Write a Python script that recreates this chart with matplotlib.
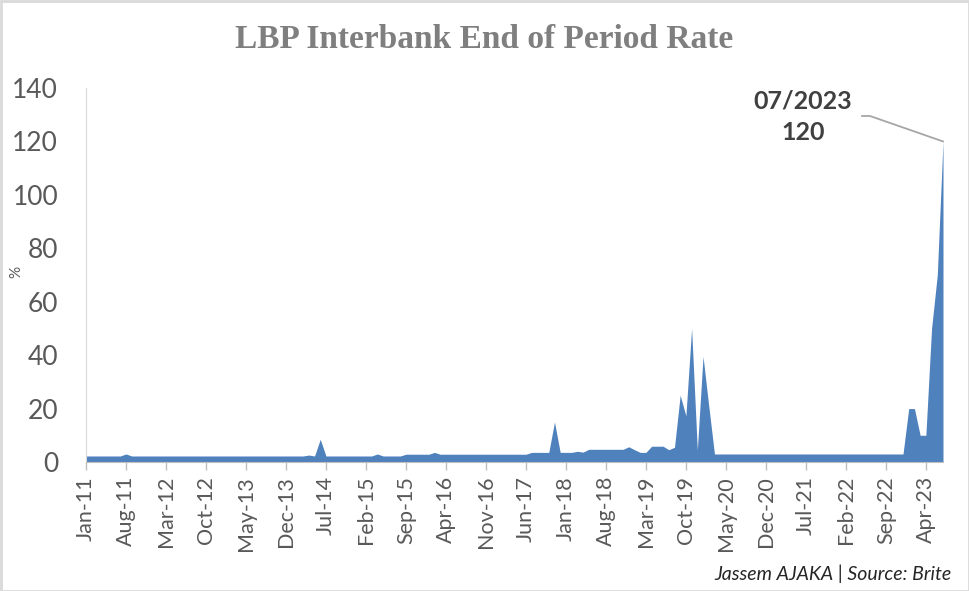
import matplotlib
matplotlib.use("Agg")
import matplotlib.pyplot as plt
import numpy as np
import pandas as pd
from matplotlib.patches import Rectangle

# ---- data (monthly, Jan-2011 .. Jul-2023) ----
start_month = "2011-01-01"
n_months = 151
rates = (
    [2.25] * 7 + [3.0] + [2.25] * 31 + [2.6, 2.25, 8.5] + [2.25] * 9 + [3.0] + [2.25] * 4
    + [2.9] * 5 + [3.6] + [2.9] * 16
    + [3.6] * 4 + [15.0] + [3.6] * 3 + [4.0, 3.7]
    + [4.75] * 7 + [5.7, 4.6, 3.6, 3.6, 5.9, 5.9, 5.9, 4.6, 5.5]
    + [25.0, 17.3, 50.0, 4.5, 39.5, 21.0]
    + [3.0] * 34
    + [20.0, 20.0, 10.0, 10.0, 50.0, 70.0, 120.0]
)
tick_step = 7
y_ticks = [0, 20, 40, 60, 80, 100, 120, 140]
title = "LBP Interbank End of Period Rate"
y_label = "%"
annot_text = "07/2023\n120"
source_text = "Jassem AJAKA | Source: Brite"

dates = pd.date_range(start_month, periods=n_months, freq="MS")
x = np.arange(n_months)
labels = [d.strftime("%b-%y") for d in dates]

W, H = 970, 591
fig = plt.figure(figsize=(W / 100, H / 100), dpi=100)
fig.patch.set_facecolor("white")

ax = fig.add_axes([86 / W, 1 - 462 / H, (943 - 86) / W, (462 - 88) / H])
ax.fill_between(x, 0, rates, color="#4f81bd", linewidth=0)
ax.set_xlim(0, n_months - 1)
ax.set_ylim(0, 140)

ax.set_xticks(x[::tick_step])
ax.set_xticklabels(labels[::tick_step], rotation=90, fontsize=15.5, color="#595959",
                   family=["Lato", "DejaVu Sans"])
ax.set_yticks(y_ticks)
ax.set_yticklabels([str(v) for v in y_ticks], fontsize=19, color="#595959",
                   family=["Lato", "DejaVu Sans"])
ax.tick_params(axis="y", length=0, pad=20)
ax.tick_params(axis="x", length=6, color="#bfbfbf", width=1, pad=4)

for s in ["top", "right"]:
    ax.spines[s].set_visible(False)
ax.spines["left"].set_color("#d9d9d9")
ax.spines["bottom"].set_color("#bfbfbf")

fig.text(16 / W, 1 - 272 / H, y_label, rotation=90, ha="center", va="center",
         fontsize=11, color="#595959", family=["Lato", "DejaVu Sans"])

fig.text(484 / W, 1 - 40 / H, title, ha="center", va="center", fontsize=24,
         fontweight="bold", color="#7f7f7f", family=["Liberation Serif", "DejaVu Serif"])

# annotation of last point: short horizontal stub then diagonal to the point
last = n_months - 1
to_data = ax.transData.inverted()
stub0 = to_data.transform((862, H - 116))
stub1 = to_data.transform((870, H - 116))
ax.plot([stub0[0], stub1[0], x[last]], [stub0[1], stub1[1], rates[last]],
        color="#a6a6a6", lw=1.3, clip_on=False)
fig.text(803 / W, 1 - 117 / H, annot_text, ha="center", va="center", fontsize=18,
         fontweight="bold", color="#404040", linespacing=1.45,
         family=["Lato", "DejaVu Sans"])

fig.text(952 / W, 1 - 574 / H, source_text, ha="right", va="center", fontsize=14,
         style="italic", color="#262626", family=["Lato", "DejaVu Sans"])

fig.patches.append(Rectangle((0.5 / W, 0.5 / H), 1 - 1.5 / W, 1 - 1.5 / H,
                             transform=fig.transFigure, fill=False,
                             edgecolor="#d9d9d9", linewidth=2))

fig.savefig("out.png", dpi=100)
